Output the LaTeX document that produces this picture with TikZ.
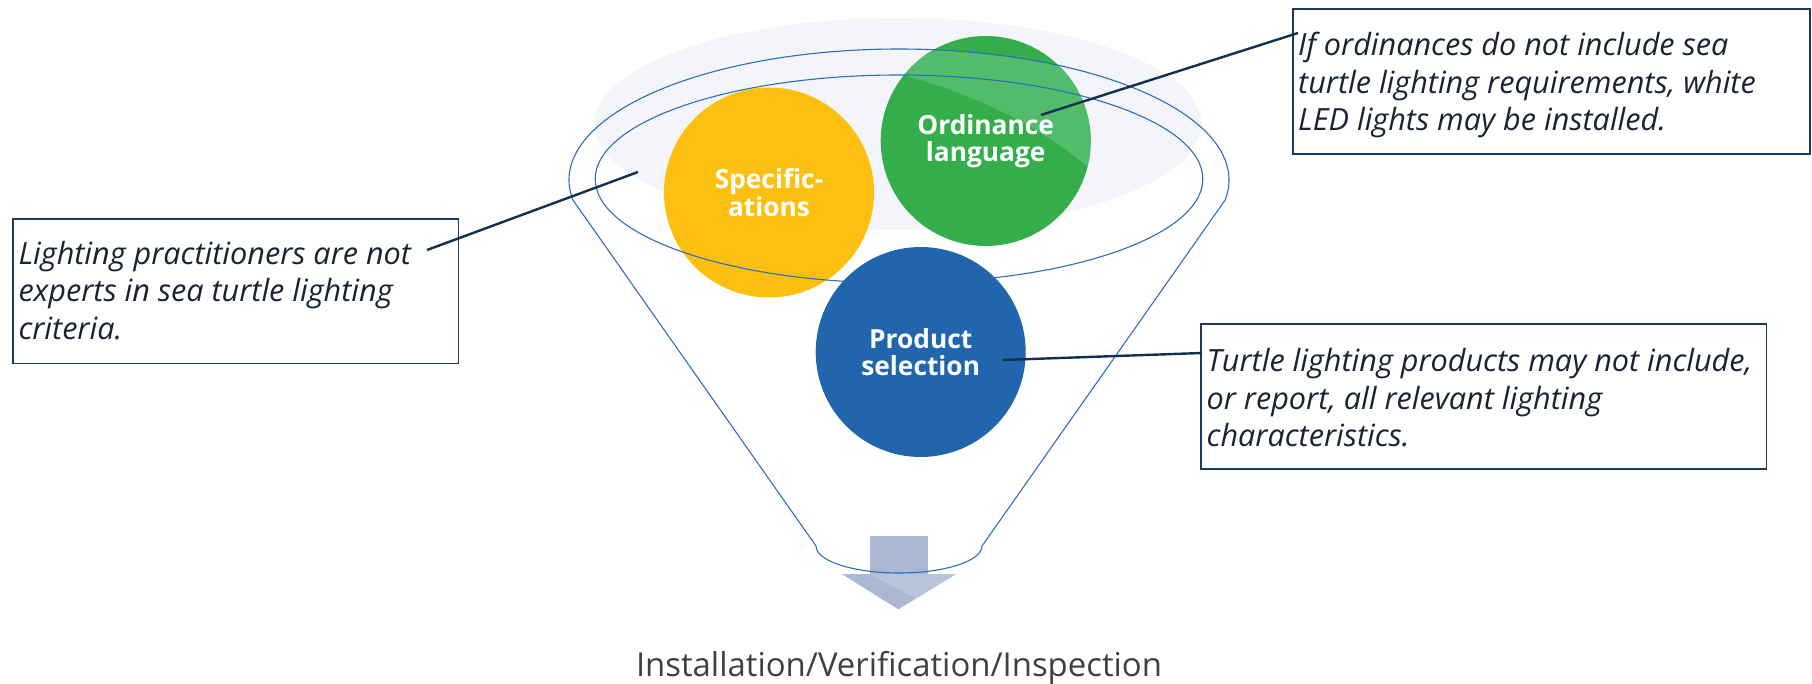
\documentclass[tikz,border=0pt]{standalone}
\usepackage{fontspec}
\setmainfont{Open Sans}
\usetikzlibrary{calc}
\definecolor{pale}{HTML}{F3F5FA}
\definecolor{yel}{HTML}{FDC010}
\definecolor{grn}{HTML}{33AE4B}
\definecolor{grnl}{HTML}{53BB6C}
\definecolor{blu}{HTML}{2166AC}
\definecolor{fun}{HTML}{2E6EB5}
\definecolor{navy}{HTML}{12304F}
\definecolor{boxc}{HTML}{1C3A5E}
\definecolor{txt}{HTML}{1A2333}
\definecolor{arr}{HTML}{AAB8D4}
\definecolor{arrl}{HTML}{B9C5DD}
\definecolor{capc}{HTML}{404040}
\begin{document}
\begin{tikzpicture}[x=1pt,y=-1pt,
  ball/.style={circle, minimum size=210pt, inner sep=0pt},
  balltext/.style={text=white, align=center, inner sep=0pt,
    font=\bfseries\fontsize{26.3}{27.5}\selectfont},
  notebox/.style={draw=boxc, line width=1.8pt, anchor=north west, inner sep=0pt},
  notetext/.style={anchor=north west, inner sep=0pt, align=left, text=txt,
    font=\itshape\fontsize{30.6}{37.5}\selectfont},
  link/.style={draw=navy, line width=2.4pt},
  funnel/.style={draw=fun, line width=1.1pt}]
\useasboundingbox (0,0) rectangle (1812,684);
% background rim
\fill[pale] (898,124) ellipse [x radius=303.5, y radius=106];
% arrow
\fill[arr] (870,536) rectangle (927.7,574.5);
\fill[arr] (841.7,574) -- (956,574) -- (898.3,609.3) -- cycle;
\fill[arrl] (870,574) -- (956,574) -- (915.5,598.6) -- cycle;
% yellow and green balls
\node[ball, fill=yel] (spec) at (769,192.5) {};
\node[ball, fill=grn] (ord) at (985.7,141) {};
\begin{scope}
  \clip (985.7,141) circle [radius=105];
  \clip (899,180) ellipse [x radius=330, y radius=131];
  \fill[grnl] (860,0) -- (860,75) -- (903,75) .. controls (965,92) and (1040,122) .. (1100,178) -- (1100,0) -- cycle;
\end{scope}
\node[balltext] (spectext) at (spec.center) {Specific-\\ations};
\node[balltext] (ordtext) at (ord.center) {Ordinance\\language};
% funnel
\draw[funnel] (899,179) ellipse [x radius=303.8, y radius=104];
\draw[funnel] (572.9,200) arc [start angle=171.22, end angle=368.78, x radius=330, y radius=131]
  -- (982,546) arc [start angle=0, end angle=180, x radius=83, y radius=27] -- cycle;
% blue ball
\node[ball, fill=blu] (prod) at (920.7,352) {};
\node[balltext] (prodtext) at (prod.center) {Product\\selection};
% notes
\node[notebox, minimum width=445.2pt, minimum height=144.4pt] (lbox) at (12.3,218.3) {};
\node[notetext] (ltext) at ($(lbox.north west)+(6,19.75)$) {\strut Lighting practitioners are not\\experts in sea turtle lighting\\criteria.};
\node[notebox, minimum width=517pt, minimum height=144.7pt] (tbox) at (1292,8.3) {};
\node[notetext] (ttext) at ($(tbox.north west)+(6,21)$) {\strut If ordinances do not include sea\\turtle lighting requirements, white\\LED lights may be installed.};
\node[notebox, minimum width=565.5pt, minimum height=144.4pt] (bbox) at (1200,323.3) {};
\node[notetext] (btext) at ($(bbox.north west)+(6.5,22)$) {\strut Turtle lighting products may not include,\\or report, all relevant lighting\\characteristics.};
% connectors
\coordinate (l1) at (427,250);
\coordinate (l2) at (638,172);
\coordinate (g1) at (1041,115);
\coordinate (g2) at (1298,33);
\coordinate (b1) at (1003,360);
\coordinate (b2) at (1202,353);
\draw[link] (l1) -- (l2);
\draw[link] (g1) -- (g2);
\draw[link] (b1) -- (b2);
% caption
\node[anchor=base, text=capc, inner sep=0pt, font=\fontsize{32.9}{36}\selectfont] (caption) at (899,676) {Installation/Verification/Inspection};
\end{tikzpicture}
\end{document}
